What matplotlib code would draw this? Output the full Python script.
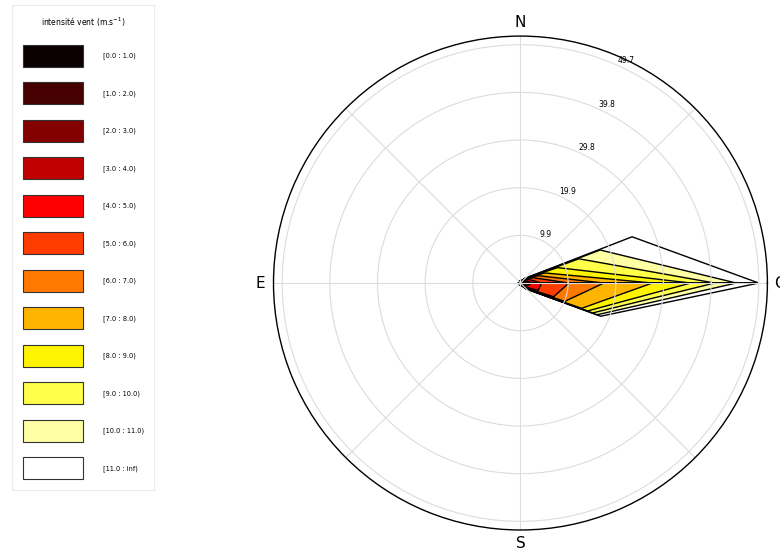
import numpy as np
import matplotlib
matplotlib.use('Agg')
from matplotlib import pyplot as plt
from matplotlib.patches import Patch

# Wind directions (deg, counter-clockwise from the right) and speed classes
dir_deg = [0, 22.5, 45, 67.5, 90, 112.5, 135, 157.5,
           180, 202.5, 225, 247.5, 270, 292.5, 315, 337.5]
speed_labels = ['[0.0 : 1.0)', '[1.0 : 2.0)', '[2.0 : 3.0)', '[3.0 : 4.0)',
                '[4.0 : 5.0)', '[5.0 : 6.0)', '[6.0 : 7.0)', '[7.0 : 8.0)',
                '[8.0 : 9.0)', '[9.0 : 10.0)', '[10.0 : 11.0)', '[11.0 : inf)']

# Frequencies (%) per speed class, one value per direction
f0 = [0.5, 0.3, 0.2, 0.1, 0.1, 0.1, 0.1, 0.1, 0.1, 0.1, 0.1, 0.1, 0.1, 0.1, 0.2, 0.3]
f1 = [0.5, 0.2, 0.2, 0.1, 0.1, 0.1, 0.1, 0.1, 0.1, 0.1, 0.1, 0.1, 0.1, 0.1, 0.2, 0.3]
f2 = [0.6, 0.3, 0.2, 0.1, 0.1, 0.1, 0.1, 0.1, 0.1, 0.1, 0.1, 0.1, 0.1, 0.1, 0.2, 0.4]
f3 = [0.8, 0.4, 0.2, 0.1, 0.05, 0.05, 0.05, 0.05, 0.05, 0.05, 0.05, 0.05, 0.05, 0.1, 0.2, 0.5]
f4 = [2.0, 0.7, 0.2, 0.05, 0.05, 0.05, 0.05, 0.05, 0.05, 0.05, 0.05, 0.05, 0.05, 0.05, 0.3, 2.5]
f5 = [5.7, 1.0, 0.15, 0.05, 0, 0, 0, 0, 0, 0, 0, 0, 0, 0.05, 0.3, 3.5]
f6 = [7.3, 1.1, 0.1, 0, 0, 0, 0, 0, 0, 0, 0, 0, 0, 0, 0.2, 2.5]
f7 = [10.1, 1.5, 0.1, 0, 0, 0, 0, 0, 0, 0, 0, 0, 0, 0, 0.1, 3.8]
f8 = [8.0, 2.9, 0.05, 0, 0, 0, 0, 0, 0, 0, 0, 0, 0, 0, 0.05, 1.4]
f9 = [5.0, 4.8, 0, 0, 0, 0, 0, 0, 0, 0, 0, 0, 0, 0, 0, 1.1]
f10 = [4.5, 4.8, 0, 0, 0, 0, 0, 0, 0, 0, 0, 0, 0, 0, 0, 1.0]
f11 = [4.7, 7.2, 0, 0, 0, 0, 0, 0, 0, 0, 0, 0, 0, 0, 0, 0.8]
table = np.array([f0, f1, f2, f3, f4, f5, f6, f7, f8, f9, f10, f11])

rmax = table.sum(axis=0).max()
rgrid = np.linspace(0, rmax, 6)[1:]
compass = ['O', '', 'N', '', 'E', '', 'S', '']

colors = plt.get_cmap('hot')(np.linspace(0, 1, len(speed_labels)))

fig = plt.figure(figsize=(7.8, 5.5), dpi=100)
ax = fig.add_axes([0.3506, 0.0364, 0.6333, 0.898], projection='polar')

theta = np.deg2rad(np.append(dir_deg, dir_deg[0]))
cum = np.cumsum(table, axis=0)
n = len(speed_labels)
for i in range(n):
    r = np.append(cum[i], cum[i][0])
    # inner classes drawn on top
    ax.fill(np.append(theta, 0), np.append(r, 0), facecolor=colors[i],
            edgecolor='black', linewidth=1.0, zorder=1 + (n - i) * 0.01)

ax.set_ylim(0, 51.5)
ax.set_rgrids(rgrid, labels=['%.1f' % v for v in rgrid], angle=66, fontsize=5.5)
ax.set_thetagrids(np.arange(0, 360, 45), labels=compass, fontsize=11)
ax.tick_params(axis='x', pad=-1)
ax.grid(True, color='#dcdcdc', linewidth=0.8)
ax.spines['polar'].set_color('black')
ax.spines['polar'].set_linewidth(1.0)

handles = [Patch(facecolor=c, edgecolor='#333333', linewidth=0.8) for c in colors]
leg = fig.legend(handles, speed_labels, loc='upper left',
                 bbox_to_anchor=(12 / 780, 1 - 5 / 550), borderaxespad=0,
                 fontsize=4.8, handlelength=9.0, handleheight=4.7,
                 labelspacing=2.33, handletextpad=3.0, borderpad=1.6,
                 title='intensité vent (m.s$^{-1}$)', title_fontsize=5.5,
                 fancybox=False, edgecolor='#e6e6e6')
leg.get_frame().set_linewidth(0.8)

plt.savefig('out.png', dpi=100)
plt.close()
